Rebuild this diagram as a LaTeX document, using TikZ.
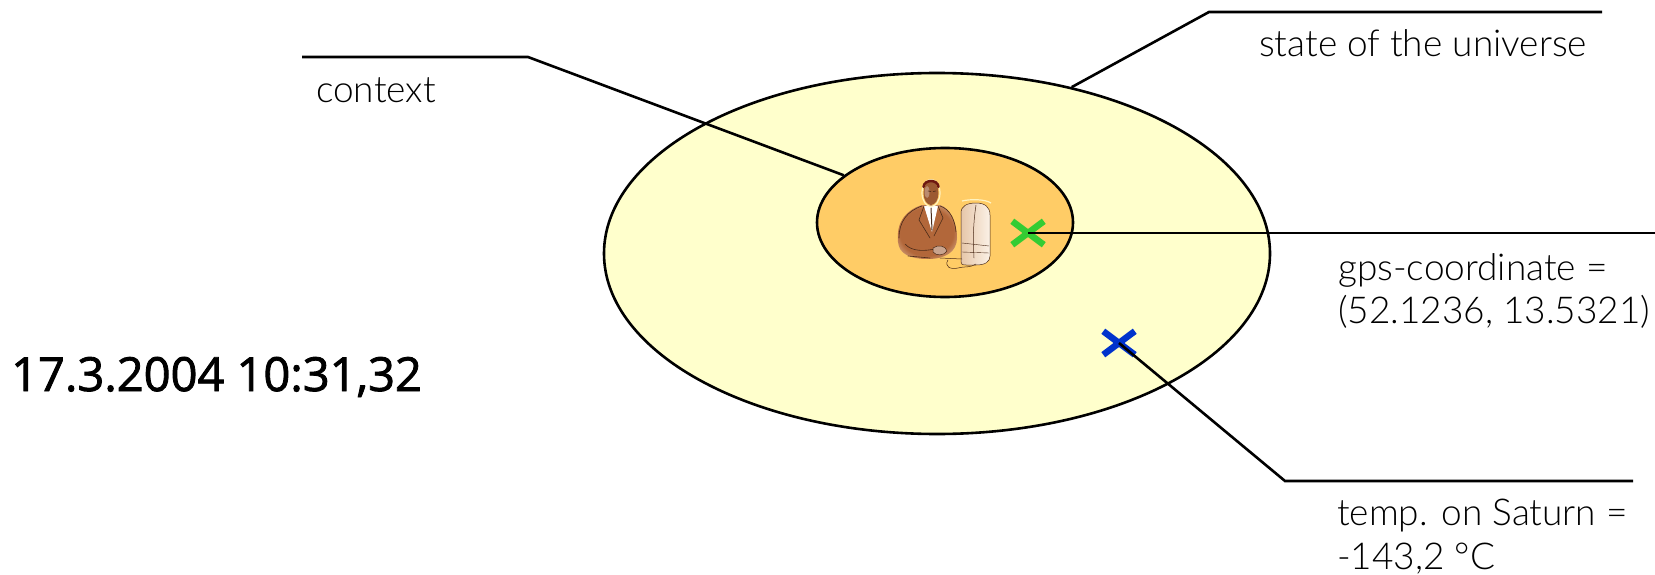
\documentclass[tikz,border=0pt]{standalone}
\usepackage{fontspec}
\setmainfont{Open Sans}
\newfontfamily\datefont{Open Sans}[FakeBold=1.8]
\newfontfamily\labelfont{Lato}[UprightFont=* Light]
\usetikzlibrary{shapes.geometric,shapes.misc}

\definecolor{universe}{HTML}{FFFFCC}
\definecolor{contextfill}{HTML}{FFCC66}
\definecolor{gpsgreen}{HTML}{33CC33}
\definecolor{tempblue}{HTML}{0033CC}
\definecolor{jacket}{HTML}{B2673A}
\definecolor{jacketedge}{HTML}{FBEBD2}
\definecolor{skin}{HTML}{9C5A32}
\definecolor{hair}{HTML}{6E1810}
\definecolor{screenA}{HTML}{E6C7AA}
\definecolor{screenB}{HTML}{FBF1E6}
\definecolor{glow}{HTML}{FFF3C0}
\definecolor{inkline}{HTML}{4A2A18}

\pgfdeclareradialshading{jacketshade}{\pgfpoint{0bp}{0bp}}{%
  color(0bp)=(jacket); color(22bp)=(jacket); color(40bp)=(jacketedge); color(50bp)=(jacketedge)}

\begin{document}
\begin{tikzpicture}[x=1pt, y=-1pt,
  zone/.style={ellipse, draw=black, line width=2.6pt, inner sep=0pt},
  marker/.style={cross out, line width=6.5pt, inner sep=0pt,
                 minimum width=25pt, minimum height=17pt},
  leader/.style={draw=black, line width=2.6pt},
  lbl/.style={anchor=base west, inner sep=0pt,
              font=\labelfont\fontsize{37}{44}\selectfont},
  datelbl/.style={anchor=base west, inner sep=0pt,
                  font=\datefont\fontsize{47}{57}\selectfont},
  ink/.style={draw=inkline, line width=0.6pt, line cap=round, line join=round}]

\useasboundingbox (0,0) rectangle (1655,575);

% the two nested zones
\node[zone, fill=universe, minimum width=666pt, minimum height=361pt] (outer) at (937,253.5) {};
\node[zone, fill=contextfill, minimum width=256pt, minimum height=149pt] (inner) at (945,222.5) {};

% man at his computer
\shade[shading=jacketshade] (898,242) .. controls (896,222) and (906,210) .. (922,205)
  -- (940,205) .. controls (950,208) and (957,222) .. (957,238)
  .. controls (957,252) and (945,259) .. (928,259)
  .. controls (910,259) and (899,254) .. (898,242) -- cycle;
\draw[ink] (899,238) .. controls (899,222) and (907,211) .. (922,206);
\draw[ink] (940,206) .. controls (950,209) and (955,220) .. (956,232);
\fill[white] (924,206) -- (938,206) -- (932,232) -- cycle;
\draw[ink, line width=1pt] (931,208) -- (932,230);
\draw[ink] (924,206) -- (919,220) -- (930,238);
\draw[ink] (938,206) -- (943,218) -- (934,236);
\draw[ink] (905,244) .. controls (912,252) and (925,251) .. (935,249);
\draw[ink] (908,256) -- (930,258);
\filldraw[fill=skin!55!white, ink, line width=0.5pt] (933,248) .. controls (938,244) and (946,246) .. (947,251)
  .. controls (944,256) and (936,256) .. (933,252) -- cycle;
\draw[glow, line width=1.2pt] (931,193) ellipse [x radius=9pt, y radius=13.5pt];
\fill[skin] (931,193) ellipse [x radius=7.5pt, y radius=12pt];
\fill[skin!70!white] (927,192) ellipse [x radius=2.5pt, y radius=6pt];
\draw[inkline, line width=0.6pt] (928,191) -- (931,191.5) (933,191.5) -- (936,191);
\draw[hair, line width=2.5pt, line cap=round] (923.5,187) .. controls (924,179) and (938,179) .. (938.5,187);

\draw[glow, line width=1.2pt] (962,201) .. controls (970,199) and (985,199) .. (991,203);
\shade[left color=screenA, right color=screenB] (961,262) -- (961,213)
  .. controls (961,206) and (967,203) .. (976,203)
  .. controls (985,203) and (990,207) .. (990,215) -- (990,256)
  .. controls (990,262) and (985,265) .. (976,265) -- (966,265)
  .. controls (962,265) and (961,264) .. (961,262) -- cycle;
\draw[ink, line width=0.5pt] (961,262) -- (961,213)
  .. controls (961,206) and (967,203) .. (976,203)
  .. controls (985,203) and (990,207) .. (990,215) -- (990,256)
  .. controls (990,262) and (985,265) .. (976,265) -- (966,265)
  .. controls (962,265) and (961,264) .. (961,262) -- cycle;
\draw[ink, line width=0.5pt] (976,205) .. controls (973,225) and (973,240) .. (974,258);
\draw[ink, line width=0.4pt] (962,243) -- (989,246) (962,252) -- (989,253);
\draw[ink, line width=0.5pt] (948,260) .. controls (944,266) and (950,270) .. (958,268)
  .. controls (966,266) and (970,268) .. (976,264);
\draw[ink, line width=0.5pt] (940,258) -- (962,259);

% measured values
\node[marker, draw=gpsgreen] (gps) at (1028,233) {};
\node[marker, draw=tempblue] (temp) at (1119,343) {};

% free ends of the leader lines
\coordinate (ctxEnd) at (302,57);
\coordinate (ctxBend) at (528,57);
\coordinate (uniEnd) at (1602,12);
\coordinate (uniBend) at (1209,12);
\coordinate (gpsEnd) at (1655,233);
\coordinate (tempBend) at (1285,481);
\coordinate (tempEnd) at (1633,481);

\draw[leader] (ctxEnd) -- (ctxBend) -- (inner.155);
\draw[leader] (uniEnd) -- (uniBend) -- (outer.51);
\draw[leader] (gps.center) -- (gpsEnd);
\draw[leader] (temp.center) -- (tempBend) -- (tempEnd);

% labels
\node[lbl] (ctxLabel) at (316,103) {context};
\node[lbl] (uniLabel) at (1259,57) {state of the universe};
\node[lbl] (gpsLabelA) at (1338,280) {gps-coordinate =};
\node[lbl] (gpsLabelB) at (1338,323) {(52.1236, 13.5321)};
\node[lbl] (tempLabelA) at (1337,525) {temp. on Saturn =};
\node[lbl] (tempLabelB) at (1337,569) {-143,2 °C};
\node[datelbl] (stamp) at (11,391) {17.3.2004 10:31,32};
\end{tikzpicture}
\end{document}
